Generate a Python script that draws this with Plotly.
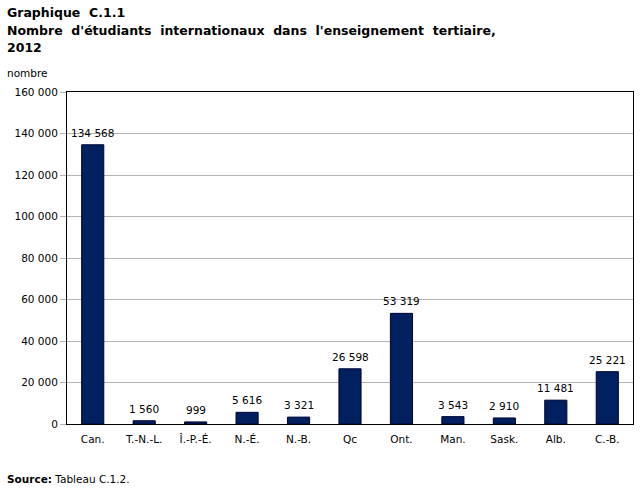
import plotly.graph_objects as go

categories = ["Can.", "T.-N.-L.", "Î.-P.-É.", "N.-É.", "N.-B.", "Qc", "Ont.", "Man.", "Sask.", "Alb.", "C.-B."]
values = [134568, 1560, 999, 5616, 3321, 26598, 53319, 3543, 2910, 11481, 25221]
y_ticks = [0, 20000, 40000, 60000, 80000, 100000, 120000, 140000, 160000]
title_lines = ["Graphique  C.1.1",
               "Nombre  d'étudiants  internationaux  dans  l'enseignement  tertiaire,",
               "2012"]

FONT = "DejaVu Sans"
PL, PT, PH, PW = 67, 92, 332, 566

def px_x(x):
    return (x - PL) / PW

def px_y(y):
    return 1 - (y - PT) / PH

fig = go.Figure()
fig.add_trace(go.Bar(
    x=categories, y=values,
    marker=dict(color="#002060", line=dict(color="#000030", width=1)),
    width=0.43,
    hoverinfo="x+y",
))

for c, v in zip(categories, values):
    fig.add_annotation(x=c, y=v, xref="x", yref="y", showarrow=False,
                       text=f"{v:,}".replace(",", " "), yshift=12,
                       yanchor="middle",
                       font=dict(family=FONT, size=10.5, color="#000000"))

fig.update_layout(
    width=643, height=493,
    margin=dict(l=PL, r=643 - PL - PW, t=PT, b=493 - PT - PH),
    paper_bgcolor="white", plot_bgcolor="white",
    separators=". ",
    showlegend=False,
    font=dict(family=FONT, size=10.5, color="#000000"),
)
fig.update_yaxes(
    range=[0, 160000], tickvals=y_ticks, tickformat=",d",
    showgrid=True, gridcolor="#b3b3b3", gridwidth=1,
    ticks="outside", ticklen=6, tickcolor="#b3b3b3",
    showline=True, linecolor="#000000", linewidth=1, mirror=True,
    tickfont=dict(family=FONT, size=10.5), zeroline=False,
)
fig.update_xaxes(
    showline=True, linecolor="#000000", linewidth=1, mirror=True,
    ticks="", tickfont=dict(family=FONT, size=10.5), ticklabelstandoff=5,
)

for line, yc in zip(title_lines, [13, 31, 47]):
    fig.add_annotation(xref="paper", yref="paper", x=px_x(5), y=px_y(yc),
                       xanchor="left", yanchor="middle", showarrow=False,
                       text="<b>" + line + "</b>",
                       font=dict(family=FONT, size=12.5, color="#000000"))
fig.add_annotation(xref="paper", yref="paper", x=px_x(5), y=px_y(73),
                   xanchor="left", yanchor="middle", showarrow=False,
                   text="nombre", font=dict(family=FONT, size=10.5, color="#000000"))
fig.add_annotation(xref="paper", yref="paper", x=px_x(5), y=px_y(479),
                   xanchor="left", yanchor="middle", showarrow=False,
                   text="<b>Source:</b> Tableau C.1.2.", font=dict(family=FONT, size=10.5, color="#000000"))

fig.write_html("out.html")
